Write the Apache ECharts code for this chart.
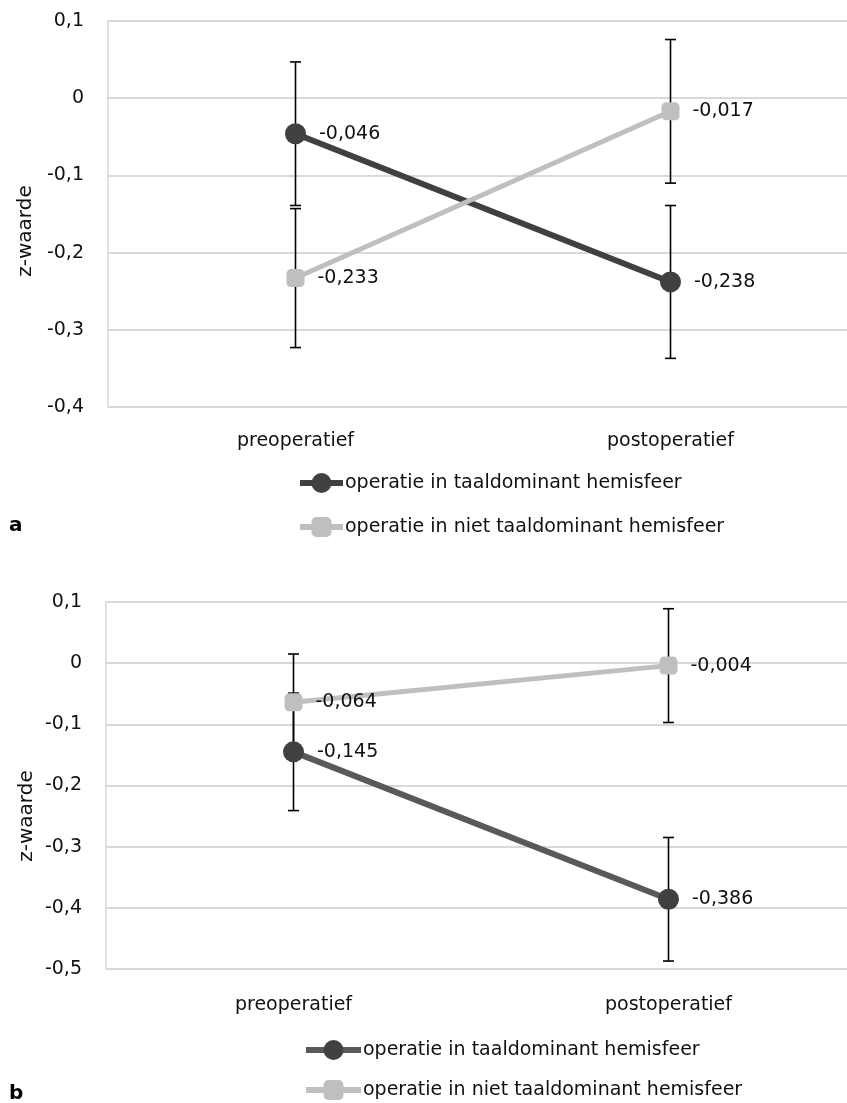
<!DOCTYPE html>
<html><head><meta charset="utf-8">
<script src="https://cdn.jsdelivr.net/npm/echarts@6/dist/echarts.min.js"></script>
<style>
html,body{margin:0;padding:0;background:#fff;overflow:hidden;width:847px;height:1103px;}
#a{position:absolute;left:0;top:0;width:870px;height:560px;}
#b{position:absolute;left:0;top:560px;width:870px;height:543px;}
</style>
</head><body><div id="a"></div><div id="b"></div>
<script>
const categories = ['preoperatief', 'postoperatief'];
const seriesNames = ['operatie in taaldominant hemisfeer', 'operatie in niet taaldominant hemisfeer'];
const panelLabels = ['a', 'b'];
const axisTitle = 'z-waarde';

const aDominant = [-0.046, -0.238];
const aDominantErr = [0.093, 0.099];
const aNonDominant = [-0.233, -0.017];
const aNonDominantErr = [0.090, 0.093];
const aTicks = [-0.4, -0.3, -0.2, -0.1, 0, 0.1];

const bDominant = [-0.145, -0.386];
const bDominantErr = [0.096, 0.101];
const bNonDominant = [-0.064, -0.004];
const bNonDominantErr = [0.079, 0.093];
const bTicks = [-0.5, -0.4, -0.3, -0.2, -0.1, 0, 0.1];

const FONT = 'DejaVu Sans';
const TXT = '#111';

function tickFmt(v) {
  const r = Math.round(v * 10) / 10;
  return r === 0 ? '0' : r.toFixed(1).replace('.', ',');
}
function valFmt(v) { return v.toFixed(3).replace('.', ','); }

function errSeries(vals, errs) {
  return {
    type: 'custom', z: 1, silent: true, animation: false,
    data: vals.map((v, i) => [i, v - errs[i], v + errs[i]]),
    encode: { x: 0, y: [1, 2] },
    renderItem(params, api) {
      const x = api.value(0);
      const lo = api.coord([x, api.value(1)]);
      const hi = api.coord([x, api.value(2)]);
      const hw = 5.5;
      const st = { stroke: '#000', lineWidth: 1.6 };
      return { type: 'group', children: [
        { type: 'line', shape: { x1: lo[0], y1: lo[1], x2: hi[0], y2: hi[1] }, style: st },
        { type: 'line', shape: { x1: lo[0] - hw, y1: lo[1], x2: lo[0] + hw, y2: lo[1] }, style: st },
        { type: 'line', shape: { x1: hi[0] - hw, y1: hi[1], x2: hi[0] + hw, y2: hi[1] }, style: st }
      ]};
    }
  };
}

function lineSeries(name, vals, lineColor, markerColor, symbol, size, width) {
  return {
    type: 'line', name: name, data: vals, symbol: symbol, symbolSize: size, z: 3,
    showAllSymbol: true, animation: false,
    lineStyle: { color: lineColor, width: width },
    itemStyle: { color: markerColor, borderWidth: 0 },
    label: { show: true, position: 'right', distance: 13, fontFamily: FONT, fontSize: 19, color: TXT,
      formatter: p => valFmt(p.value) },
    emphasis: { disabled: true }
  };
}

function buildOption(cfg) {
  return {
    animation: false,
    textStyle: { fontFamily: FONT },
    grid: { left: cfg.left, top: cfg.top, width: 750, height: cfg.height, containLabel: false },
    xAxis: {
      type: 'category', data: categories, boundaryGap: true,
      axisLine: { show: true, lineStyle: { color: '#d9d9d9', width: 2 } },
      axisTick: { show: false },
      axisLabel: { margin: cfg.xMargin, fontFamily: FONT, fontSize: 19, color: TXT },
      splitLine: { show: false }
    },
    yAxis: {
      type: 'value', min: cfg.ticks[0], max: cfg.ticks[cfg.ticks.length - 1], interval: 0.1,
      axisLine: { show: true, lineStyle: { color: '#d9d9d9', width: 1.5 } },
      axisTick: { show: false },
      axisLabel: { margin: 24, fontFamily: FONT, fontSize: 19, color: TXT, formatter: tickFmt },
      splitLine: { show: true, lineStyle: { color: '#d9d9d9', width: 2 } }
    },
    legend: {
      orient: 'vertical', left: cfg.legendLeft, top: cfg.legendTop, padding: 0,
      itemWidth: cfg.legendIconW, itemHeight: 25, itemGap: cfg.legendGap,
      data: seriesNames,
      lineStyle: { width: 6 },
      textStyle: { fontFamily: FONT, fontSize: 19, color: TXT, padding: [0, 0, 0, -3] },
      selectedMode: false
    },
    graphic: [
      { type: 'text', x: cfg.titleX, y: cfg.titleY, rotation: Math.PI / 2,
        style: { text: axisTitle, fontFamily: FONT, fontSize: 20, fill: TXT, align: 'center', verticalAlign: 'middle' } },
      { type: 'text', x: 9, y: cfg.panelY,
        style: { text: cfg.panel, fontFamily: FONT, fontSize: 20, fontWeight: 'bold', fill: '#000', align: 'left', verticalAlign: 'middle' } }
    ],
    series: [
      errSeries(cfg.dom, cfg.domErr),
      errSeries(cfg.non, cfg.nonErr),
      lineSeries(seriesNames[0], cfg.dom, cfg.domLine, '#404040', 'circle', 21, 6),
      lineSeries(seriesNames[1], cfg.non, '#bfbfbf', '#bfbfbf', 'roundRect', 18, 5)
    ]
  };
}

const chartA = echarts.init(document.getElementById('a'), null, { renderer: 'canvas' });
chartA.setOption(buildOption({
  left: 108, top: 21, height: 386, ticks: aTicks, xMargin: 25,
  legendLeft: 297, legendTop: 473, legendIconW: 43, legendGap: 24,
  titleX: 26, titleY: 231, panel: panelLabels[0], panelY: 526,
  dom: aDominant, domErr: aDominantErr, non: aNonDominant, nonErr: aNonDominantErr,
  domLine: '#404040'
}));

const chartB = echarts.init(document.getElementById('b'), null, { renderer: 'canvas' });
chartB.setOption(buildOption({
  left: 106, top: 42, height: 367, ticks: bTicks, xMargin: 27,
  legendLeft: 303, legendTop: 480, legendIconW: 55, legendGap: 20,
  titleX: 27, titleY: 256, panel: panelLabels[1], panelY: 534,
  dom: bDominant, domErr: bDominantErr, non: bNonDominant, nonErr: bNonDominantErr,
  domLine: '#595959'
}));
</script>
</body></html>
